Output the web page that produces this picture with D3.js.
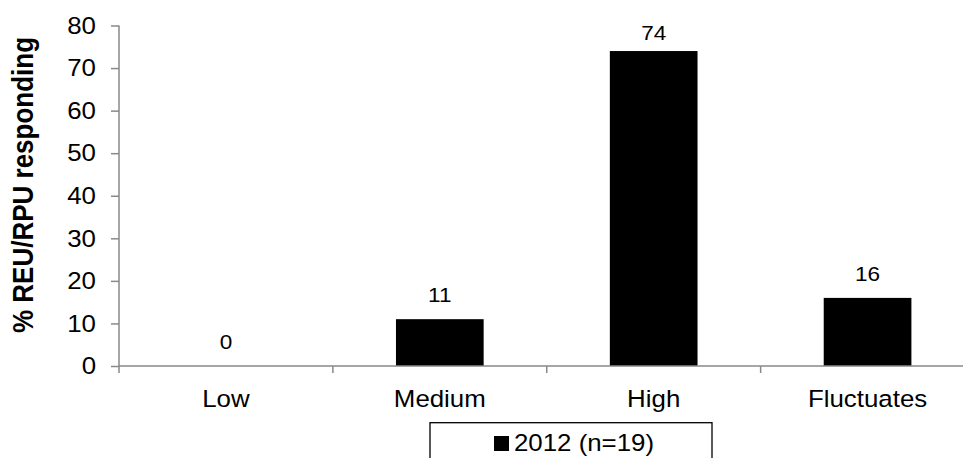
<!DOCTYPE html>
<html><head><meta charset="utf-8">
<script src="https://cdn.jsdelivr.net/npm/d3@7"></script>
<style>html,body{margin:0;padding:0;background:#fff;}svg{display:block;}</style>
</head><body>
<svg id="c" width="963" height="458"></svg>
<script>
const categories = ["Low", "Medium", "High", "Fluctuates"];
const values2012 = [0, 11, 74, 16];
const yTicks = [0, 10, 20, 30, 40, 50, 60, 70, 80];
const seriesName = "2012 (n=19)";
const yTitle = "% REU/RPU responding";

const svg = d3.select("#c");
const FONT = "Arial, 'Liberation Sans', sans-serif";
const SX = 1.1;
const axisColor = "#898989";

const x = d3.scaleBand().domain(categories).range([119, 974.5]).padding(0);
const y = d3.scaleLinear().domain([0, 80]).range([366, 25.5]);

function stext(g, tx, ty, str, size, anchor, weight) {
  return g.append("text")
    .attr("transform", `translate(${tx},${ty}) scale(${SX},1)`)
    .attr("text-anchor", anchor)
    .attr("font-family", FONT)
    .attr("font-size", size)
    .attr("font-weight", weight || "normal")
    .attr("fill", "#000")
    .text(str);
}

// bars
const bw = x.bandwidth() * 0.41;
svg.append("g").selectAll("rect").data(values2012).join("rect")
  .attr("x", (d, i) => x(categories[i]) + x.bandwidth() / 2 - bw / 2)
  .attr("y", d => y(d))
  .attr("width", bw)
  .attr("height", d => y(0) - y(d))
  .attr("fill", "#000");

// y axis
const yAxis = svg.append("g").attr("transform", "translate(119,0)")
  .call(d3.axisLeft(y).tickValues(yTicks).tickSize(8).tickFormat(""));
yAxis.select(".domain").attr("stroke", axisColor).attr("stroke-width", 1.5).attr("d", `M0,${y(80)}V${y(0)}`);
yAxis.selectAll(".tick line").attr("stroke", axisColor).attr("stroke-width", 1.5);
const yl = svg.append("g");
yTicks.forEach(t => stext(yl, 96, y(t) + 8.3, String(t), 23.5, "end"));

// x axis
const xg = svg.append("g");
xg.append("line").attr("x1", 119).attr("x2", 974.5).attr("y1", y(0)).attr("y2", y(0))
  .attr("stroke", axisColor).attr("stroke-width", 1.5);
const bounds = categories.map(c => x(c)).concat([x.range()[1]]);
xg.selectAll("line.t").data(bounds).join("line").attr("class", "t")
  .attr("x1", d => d).attr("x2", d => d).attr("y1", y(0)).attr("y2", y(0) + 7)
  .attr("stroke", axisColor).attr("stroke-width", 1.5);
categories.forEach(c => stext(xg, x(c) + x.bandwidth() / 2, 406.5, c, 23.5, "middle"));

// data labels
const dl = svg.append("g");
values2012.forEach((v, i) => {
  const by = Math.max(y(v) - 17, 40);
  stext(dl, x(categories[i]) + x.bandwidth() / 2, by, String(v), 20.5, "middle");
});

// y title
svg.append("text")
  .attr("transform", "translate(33,185) rotate(-90) scale(1,1.1)")
  .attr("text-anchor", "middle")
  .attr("font-family", FONT).attr("font-size", 26).attr("font-weight", "bold")
  .text(yTitle);

// legend
const lg = svg.append("g");
lg.append("rect").attr("x", 430).attr("y", 422.7).attr("width", 282).attr("height", 60)
  .attr("fill", "#fff").attr("stroke", "#000").attr("stroke-width", 1.3);
lg.append("rect").attr("x", 494).attr("y", 436).attr("width", 15).attr("height", 15).attr("fill", "#000");
stext(lg, 514, 450.5, seriesName, 23.5, "start");
</script>
</body></html>
